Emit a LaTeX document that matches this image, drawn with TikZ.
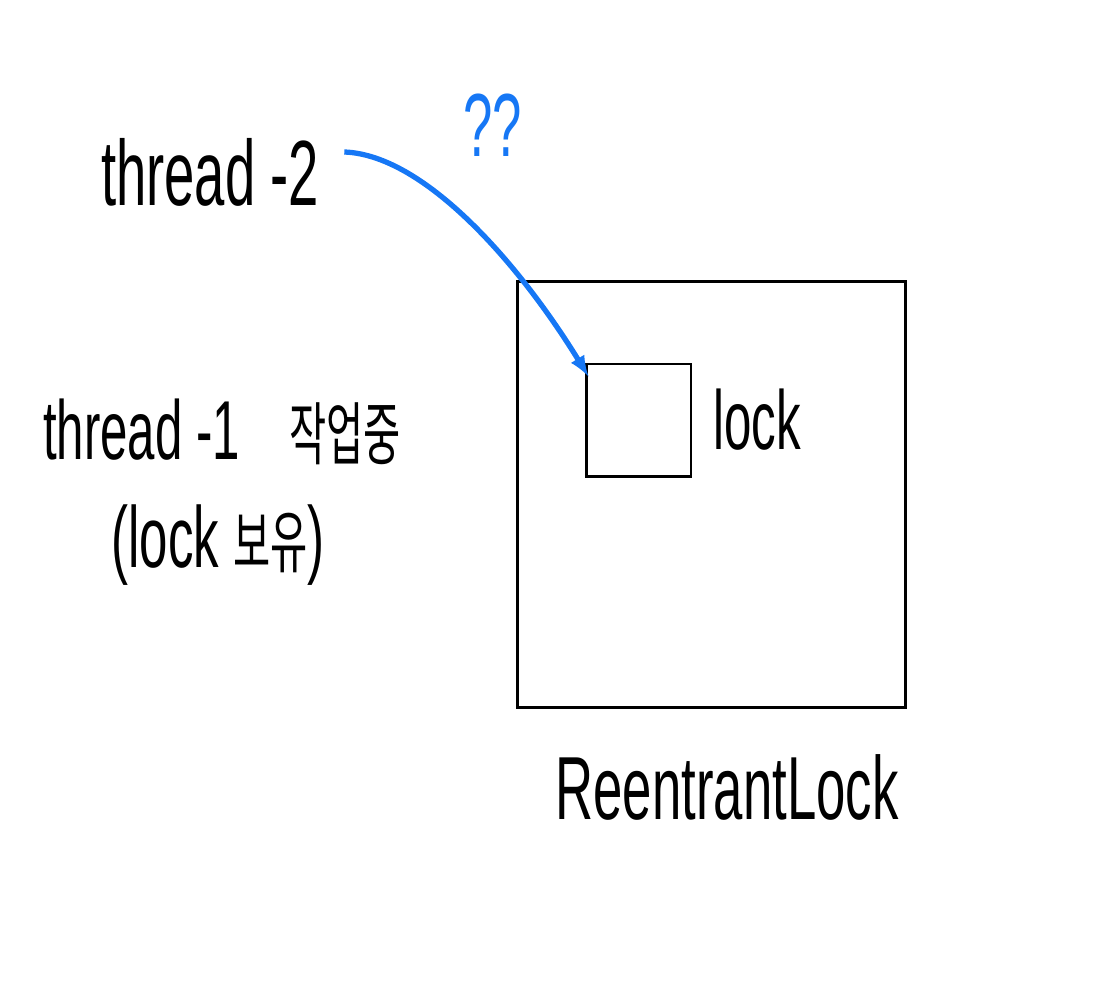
\documentclass[tikz,border=0pt]{standalone}
\usepackage{fontspec}
\setmainfont{Liberation Sans}
\newfontfamily\krfont{Noto Sans CJK KR}
\usetikzlibrary{arrows}
\definecolor{penblue}{RGB}{22,119,245}
\newcommand*{\tall}[1]{\scalebox{1}[1.7]{#1}}
\newcommand*{\kr}[1]{{\krfont\fontsize{23}{27}\selectfont #1}}

\begin{document}
\begin{tikzpicture}[x=0.02cm,y=-0.02cm]
\tikzset{hand/.style={inner sep=0pt,font=\fontsize{28}{34}\selectfont},
         box/.style={draw,line width=1.7pt,inner sep=0pt}};

    \useasboundingbox (0,0) rectangle (1110,999);

    \node[box,minimum width=7.78cm,minimum height=8.54cm] (rlock) at (711.5,494.5) {};
    \node[box,minimum width=2.1cm,minimum height=2.26cm] (inner) at (638.5,420.5) {};

    \node[hand] (lock) at (757,420) {\tall{lock}};
    \node[hand,font=\fontsize{30}{36}\selectfont] (name) at (727,787) {\tall{ReentrantLock}};

    \node[hand,font=\fontsize{31}{37}\selectfont] (t2) at (210,172) {\tall{thread -2}};
    \node[hand] (t1) at (222,432) {\tall{thread -1\quad\kr{작업중}}};
    \node[hand,font=\fontsize{29}{34}\selectfont] (hold) at (218,545) {\tall{(lock \kr{보유})}};

    \node[hand,penblue,font=\fontsize{30}{36}\selectfont] (qq) at (493,125) {\tall{??}};

    \draw[penblue,line width=3pt,-latex] ([shift={(25,-20)}]t2.east) .. controls (425,155) and (520,265) .. ([shift={(4,14)}]inner.north west);
\end{tikzpicture}
\end{document}
